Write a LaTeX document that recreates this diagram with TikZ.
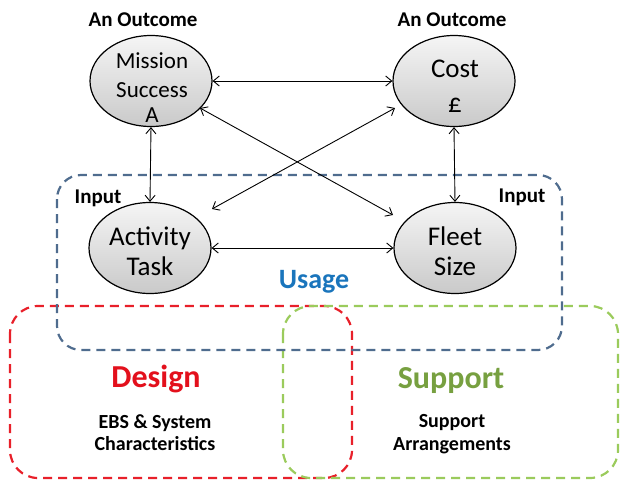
\documentclass[tikz,border=0pt]{standalone}
\usepackage{fontspec}
\setmainfont{Carlito}
\usetikzlibrary{arrows.meta,shapes.geometric}
\definecolor{usageblue}{HTML}{1A75BC}
\definecolor{boxblue}{HTML}{4F6C8E}
\definecolor{designred}{HTML}{E3101C}
\definecolor{boxred}{HTML}{E8202A}
\definecolor{boxgreen}{HTML}{9BCB5C}
\definecolor{supportgreen}{HTML}{77A040}
\begin{document}
\begin{tikzpicture}[x=1pt,y=-1pt,
  oval/.style={ellipse, draw, line width=1.2pt, minimum width=122pt, minimum height=91pt,
    top color=gray!8, bottom color=gray!42, inner sep=0pt},
  lbl/.style={anchor=base, inner sep=0pt, align=center},
  dbl/.style={{Straight Barb[length=6pt,width=10pt]}-{Straight Barb[length=6pt,width=10pt]}, line width=0.9pt},
  zone/.style={line width=2.2pt, rounded corners=28pt, dash pattern=on 9pt off 6pt},
  ovaltext/.style={lbl, font=\fontsize{27}{30}\selectfont},
  msfont/.style={lbl, font=\fontsize{23}{28}\selectfont},
  hdr/.style={lbl, font=\fontsize{21}{24}\bfseries\selectfont},
  big/.style={lbl, font=\fontsize{32}{36}\bfseries\selectfont},
  sub/.style={lbl, font=\fontsize{20}{22}\bfseries\selectfont}
]
\useasboundingbox (0,0) rectangle (622,480);

% zones
\draw[zone, boxred] (10,306) rectangle (352,478);
\draw[zone, boxgreen] (283,306) rectangle (618,478);
\draw[zone, boxblue, rounded corners=24pt] (57,175) rectangle (562,350);

% ovals
\node[oval] (ms) at (151,81) {};
\node[oval] (cost) at (454,81) {};
\node[oval] (act) at (150,248) {};
\node[oval] (fleet) at (455,248) {};

% oval texts
\node[msfont] (msa) at (152,68) {Mission};
\node[msfont] (msb) at (152,97) {Success};
\node[msfont] (msc) at (152,122) {A};
\node[ovaltext] (costa) at (455,77) {Cost};
\node[ovaltext] (costb) at (455,112) {£};
\node[ovaltext] (acta) at (150,245) {Activity};
\node[ovaltext] (actb) at (150,275) {Task};
\node[ovaltext] (fleeta) at (455,245) {Fleet};
\node[ovaltext] (fleetb) at (455,275) {Size};

% headers
\node[hdr] (out1) at (143,26) {An Outcome};
\node[hdr] (out2) at (452,26) {An Outcome};
\node[hdr] (in1) at (98,203) {Input};
\node[hdr] (in2) at (522,202) {Input};

% zone titles
\node[lbl, text=usageblue, font=\fontsize{28}{32}\bfseries\selectfont] (usage) at (314,288) {Usage};
\node[big, text=designred] (design) at (156,387) {Design};
\node[big, text=supportgreen] (support) at (451,388) {Support};
\node[sub] (ebs) at (155,428) {EBS \& System};
\node[sub] (chars) at (155,450) {Characteristics};
\node[sub] (supa) at (452,427) {Support};
\node[sub] (supb) at (452,450) {Arrangements};

% connectors
\coordinate (d1a) at (200,108);
\coordinate (d1b) at (393,215);
\coordinate (d2a) at (395,108);
\coordinate (d2b) at (212,209);
\draw[dbl] (ms) -- (cost);
\draw[dbl] (act) -- (fleet);
\draw[dbl] (ms.south) -- (act.north);
\draw[dbl] (cost.south) -- (fleet.north);
\draw[dbl] (d1a) -- (d1b);
\draw[dbl] (d2a) -- (d2b);
\end{tikzpicture}
\end{document}
